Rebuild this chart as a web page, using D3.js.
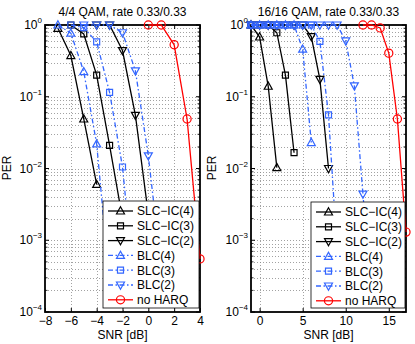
<!DOCTYPE html>
<html>
<head>
<meta charset="utf-8">
<script src="https://cdn.jsdelivr.net/npm/d3@7"></script>
<style>
  body { margin: 0; background: #fff; }
  text { font-family: "Liberation Sans", Arial, Helvetica, sans-serif; fill: #000; }
</style>
</head>
<body>
<script>
/*
 * Data
 *
 */
const seriesNames = ["SLC\u2212IC(4)", "SLC\u2212IC(3)", "SLC\u2212IC(2)", "BLC(4)", "BLC(3)", "BLC(2)", "no HARQ"];
const panelTitles = ["4/4 QAM, rate 0.33/0.33", "16/16 QAM, rate 0.33/0.33"];
const yTickExps = [0, -1, -2, -3, -4];
const xTicksLeft = [-8, -6, -4, -2, 0, 2, 4];
const xTicksRight = [0, 5, 10, 15];

// 4/4 QAM
const snrL_slc4 = [-7, -6, -5, -4];
const perL_slc4 = [0.9, 0.375, 0.049, 0.006];
const snrL_slc3 = [-6, -5, -4, -3, -2];
const perL_slc3 = [1, 0.75, 0.2, 0.021, 0.002];
const snrL_slc2 = [-4, -3, -2, -1, 0];
const perL_slc2 = [1, 1, 0.44, 0.055, 0.0023];
const snrL_blc4 = [-7, -6, -5, -4, -3];
const perL_blc4 = [1, 0.77, 0.224, 0.022, 0.00025];
const snrL_blc3 = [-6, -5, -4, -3, -2, -1];
const perL_blc3 = [1, 0.92, 0.58, 0.115, 0.0105, 0.00015];
const snrL_blc2 = [-5, -4, -3, -2, -1, 0, 1];
const perL_blc2 = [1, 1, 1, 0.78, 0.23, 0.015, 0.0004];
const snrL_noharq = [0, 1, 2, 3, 4];
const perL_noharq = [1, 1, 0.53, 0.049, 0.00055];

// 16/16 QAM
const snrR_slc4 = [-1, 0, 1, 2];
const perR_slc4 = [1, 0.68, 0.14, 0.0103];
const snrR_slc3 = [-1, 0, 1, 2, 3, 4];
const perR_slc3 = [1, 1, 1, 0.78, 0.2, 0.0166];
const snrR_slc2 = [-1, 0, 1, 2, 3, 4, 5, 6, 7, 8];
const perR_slc2 = [1, 1, 1, 1, 1, 1, 1, 0.69, 0.175, 0.01];
const snrR_blc4 = [-1, 0, 1, 2, 3, 4, 5, 6];
const perR_blc4 = [1, 1, 1, 1, 1, 1, 0.46, 0.023];
const snrR_blc3 = [-1, 0, 1, 2, 3, 4, 5, 6, 7, 8, 9];
const perR_blc3 = [1, 1, 1, 1, 1, 1, 1, 1, 0.59, 0.056, 0.0007];
const snrR_blc2 = [-1, 0, 1, 2, 3, 4, 5, 6, 7, 8, 9, 10, 11, 12, 13];
const perR_blc2 = [1, 1, 1, 1, 1, 1, 1, 1, 1, 1, 1, 0.6, 0.142, 0.0044, 0.00015];
const snrR_noharq = [12, 13, 14, 15, 16, 17];
const perR_noharq = [1, 1, 0.91, 0.405, 0.049, 0.0013];

const zip = (xs, ys) => xs.map((v, i) => ({ x: v, y: ys[i] }));

/*
 * Line / marker styles, same order as seriesNames
 *
 */
const blue = "#3366ff";
const styles = [
  { color: "#000", dash: null, marker: "up" },
  { color: "#000", dash: null, marker: "square" },
  { color: "#000", dash: null, marker: "down" },
  { color: blue, dash: "5,2.5,1.5,2.5", marker: "up" },
  { color: blue, dash: "5,2.5,1.5,2.5", marker: "square" },
  { color: blue, dash: "5,2.5,1.5,2.5", marker: "down" },
  { color: "#f00", dash: null, marker: "circle" }
];

const markerPath = {
  up: "M0,-4.2L4,3L-4,3Z",
  down: "M0,4.2L4,-3L-4,-3Z",
  square: "M-3,-3H3V3H-3Z",
  circle: d3.symbol().type(d3.symbolCircle).size(52)()
};

const panels = [
  {
    title: panelTitles[0], left: 45, right: 200, xDomain: [-8, 4], xTicks: xTicksLeft,
    perX: 11, legend: { x: 103, y: 201, w: 96, h: 107 },
    series: [zip(snrL_slc4, perL_slc4), zip(snrL_slc3, perL_slc3), zip(snrL_slc2, perL_slc2),
             zip(snrL_blc4, perL_blc4), zip(snrL_blc3, perL_blc3), zip(snrL_blc2, perL_blc2),
             zip(snrL_noharq, perL_noharq)]
  },
  {
    title: panelTitles[1], left: 251, right: 406, xDomain: [-1, 17], xTicks: xTicksRight,
    perX: 216, legend: { x: 311, y: 202, w: 94, h: 106 },
    series: [zip(snrR_slc4, perR_slc4), zip(snrR_slc3, perR_slc3), zip(snrR_slc2, perR_slc2),
             zip(snrR_blc4, perR_blc4), zip(snrR_blc3, perR_blc3), zip(snrR_blc2, perR_blc2),
             zip(snrR_noharq, perR_noharq)]
  }
];

const plotTop = 25, plotBottom = 312;

const svg = d3.select('body')
  .append('svg')
  .attr('width', 415)
  .attr('height', 344);

svg.append('rect').attr('width', 415).attr('height', 344).attr('fill', '#fff');

panels.forEach(drawPanel);

function drawPanel(p) {
  const xScale = d3.scaleLinear().domain(p.xDomain).range([p.left, p.right]);
  const yScale = d3.scaleLog().domain([1e-4, 1]).range([plotBottom, plotTop]);
  const g = svg.append('g');

  // minor + major y values for grid
  const yGrid = [];
  for (let e = -4; e < 0; e++) {
    for (let m = 1; m < 10; m++) yGrid.push(m * Math.pow(10, e));
  }

  // grid
  g.append('g').selectAll('line').data(yGrid.filter(v => v > 1e-4)).enter().append('line')
    .attr('x1', p.left).attr('x2', p.right)
    .attr('y1', d => Math.round(yScale(d)) + 0.5).attr('y2', d => Math.round(yScale(d)) + 0.5)
    .attr('stroke', '#8a8a8a').attr('stroke-width', 0.8).attr('stroke-dasharray', '1,2');

  g.append('g').selectAll('line').data(p.xTicks.filter(v => v > p.xDomain[0] && v < p.xDomain[1])).enter().append('line')
    .attr('x1', d => Math.round(xScale(d)) + 0.5).attr('x2', d => Math.round(xScale(d)) + 0.5)
    .attr('y1', plotTop).attr('y2', plotBottom)
    .attr('stroke', '#8a8a8a').attr('stroke-width', 0.8).attr('stroke-dasharray', '1,2');

  // axes
  const xAxis = d3.axisBottom(xScale).tickValues(p.xTicks).tickSizeInner(-4).tickSizeOuter(0).tickPadding(4);
  const xAx = g.append('g').attr('transform', `translate(0,${plotBottom})`).call(xAxis);
  xAx.select('.domain').remove();
  xAx.selectAll('line').attr('stroke', '#000');
  xAx.selectAll('text').attr('font-size', 12).attr('font-family', '"Liberation Sans", Arial, sans-serif');

  g.append('g').attr('transform', `translate(0,${plotTop})`)
    .call(d3.axisTop(xScale).tickValues(p.xTicks).tickSizeInner(-4).tickSizeOuter(0).tickFormat(''))
    .call(a => a.select('.domain').remove());

  const yTicks = yTickExps.map(e => Math.pow(10, e));
  const yMinor = yGrid.filter(v => !yTicks.includes(v) && v > 1e-4);
  [[p.left, 1], [p.right, -1]].forEach(([x0, dir]) => {
    g.append('g').selectAll('line').data(yTicks).enter().append('line')
      .attr('x1', x0).attr('x2', x0 + dir * 4)
      .attr('y1', d => yScale(d)).attr('y2', d => yScale(d))
      .attr('stroke', '#000');
    g.append('g').selectAll('line').data(yMinor).enter().append('line')
      .attr('x1', x0).attr('x2', x0 + dir * 2.5)
      .attr('y1', d => yScale(d)).attr('y2', d => yScale(d))
      .attr('stroke', '#000').attr('stroke-width', 0.8);
  });

  // y tick labels 10^e
  const yl = g.append('g').selectAll('text').data(yTickExps).enter().append('text')
    .attr('x', p.left - 3)
    .attr('y', e => yScale(Math.pow(10, e)) + 4)
    .attr('text-anchor', 'end')
    .attr('font-size', 12);
  yl.append('tspan').text('10');
  yl.append('tspan').attr('dy', -6).attr('font-size', 8).text(e => e === 0 ? '0' : '\u2212' + (-e));

  // box
  g.append('rect')
    .attr('x', p.left).attr('y', plotTop)
    .attr('width', p.right - p.left).attr('height', plotBottom - plotTop)
    .attr('fill', 'none').attr('stroke', '#000').attr('stroke-width', 1.8);

  // labels
  g.append('text').attr('x', (p.left + p.right) / 2).attr('y', 16)
    .attr('text-anchor', 'middle').attr('font-size', 12).text(p.title);
  g.append('text').attr('x', (p.left + p.right) / 2).attr('y', 339)
    .attr('text-anchor', 'middle').attr('font-size', 12).text('SNR [dB]');
  g.append('text').attr('transform', `translate(${p.perX},168) rotate(-90)`)
    .attr('text-anchor', 'middle').attr('font-size', 12).text('PER');

  // series
  const line = d3.line().x(d => xScale(d.x)).y(d => yScale(d.y));
  p.series.forEach((s, i) => {
    const st = styles[i];
    g.append('path').datum(s)
      .attr('d', line)
      .attr('fill', 'none')
      .attr('stroke', st.color)
      .attr('stroke-width', 1.3)
      .attr('stroke-dasharray', st.dash);
    g.append('g').selectAll('path').data(s).enter().append('path')
      .attr('d', markerPath[st.marker])
      .attr('transform', d => `translate(${xScale(d.x)},${yScale(d.y)})`)
      .attr('fill', 'none')
      .attr('stroke', st.color)
      .attr('stroke-width', 1.2);
  });

  // legend
  const L = p.legend;
  const lg = g.append('g');
  lg.append('rect').attr('x', L.x).attr('y', L.y).attr('width', L.w).attr('height', L.h)
    .attr('fill', '#fff').attr('stroke', '#000').attr('stroke-width', 0.8);
  const rows = lg.selectAll('g.row').data(seriesNames).enter().append('g')
    .attr('transform', (d, i) => `translate(${L.x},${L.y + 10 + i * 14.8})`);
  rows.append('line').attr('x1', 5).attr('x2', 30).attr('y1', 0).attr('y2', 0)
    .attr('stroke', (d, i) => styles[i].color).attr('stroke-width', 1.3)
    .attr('stroke-dasharray', (d, i) => styles[i].dash);
  rows.append('path').attr('d', (d, i) => markerPath[styles[i].marker])
    .attr('transform', 'translate(17.5,0)')
    .attr('fill', 'none').attr('stroke', (d, i) => styles[i].color).attr('stroke-width', 1.2);
  rows.append('text').attr('x', 34).attr('y', 4.3).attr('font-size', 12).text(d => d);
}
</script>
</body>
</html>
